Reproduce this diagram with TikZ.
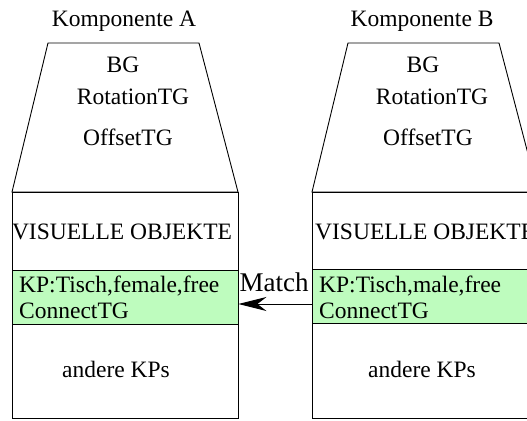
\documentclass[tikz,border=0pt]{standalone}
\usepackage{fontspec}
\setmainfont{Liberation Serif}
\usetikzlibrary{arrows.meta}
\definecolor{kpgreen}{RGB}{190,252,190}
\tikzset{
  outline/.style={draw=black, line width=0.9pt},
  lbl/.style={inner sep=0pt, font=\fontsize{23.5}{28}\selectfont},
  band/.style={outline, fill=kpgreen, minimum width=226pt, minimum height=54pt, inner sep=0pt},
  matcharrow/.style={line width=1pt, -{Stealth[length=28pt, width=14pt, inset=9pt]}},
}
\begin{document}
\begin{tikzpicture}[x=1pt, y=-1pt]
\useasboundingbox (0,0) rectangle (527,420);
\clip (0,0) rectangle (527,420);

% Komponente A
\draw[outline] (48,43) -- (199,43) -- (238,192) -- (12,192) -- cycle;
\draw[outline] (12,192) rectangle (238,418);
\node[band] (kpA) at (125,297) {};
\node[lbl, anchor=base] (titleA) at (124,27) {Komponente A};
\node[lbl, anchor=base] (bgA) at (123,72) {BG};
\node[lbl, anchor=base] (rotA) at (133,104) {RotationTG};
\node[lbl, anchor=base] (offA) at (128,145) {OffsetTG};
\node[lbl, anchor=base] (visA) at (122,239) {VISUELLE OBJEKTE};
\node[lbl, anchor=base west] (kpAtxt) at (19,292) {KP:Tisch,female,free};
\node[lbl, anchor=base west] (conA) at (19,318) {ConnectTG};
\node[lbl, anchor=base] (andA) at (116,377) {andere KPs};

% Komponente B
\draw[outline] (348,43) -- (499,43) -- (538,192) -- (312,192) -- cycle;
\draw[outline] (312,192) rectangle (538,418);
\node[band] (kpB) at (425,296) {};
\node[lbl, anchor=base] (titleB) at (422,27) {Komponente B};
\node[lbl, anchor=base] (bgB) at (423,72) {BG};
\node[lbl, anchor=base] (rotB) at (432,104) {RotationTG};
\node[lbl, anchor=base] (offB) at (428,145) {OffsetTG};
\node[lbl, anchor=base west] (visB) at (315,239) {VISUELLE OBJEKTE};
\node[lbl, anchor=base west] (kpBtxt) at (319,292) {KP:Tisch,male,free};
\node[lbl, anchor=base west] (conB) at (319,318) {ConnectTG};
\node[lbl, anchor=base] (andB) at (422,377) {andere KPs};

% Match connection
\node[lbl, font=\fontsize{27}{30}\selectfont, anchor=base] (match) at (274,291) {Match};
\draw[matcharrow] ([yshift=-8pt]kpB.west) -- ([yshift=-7pt]kpA.east);
\end{tikzpicture}
\end{document}
